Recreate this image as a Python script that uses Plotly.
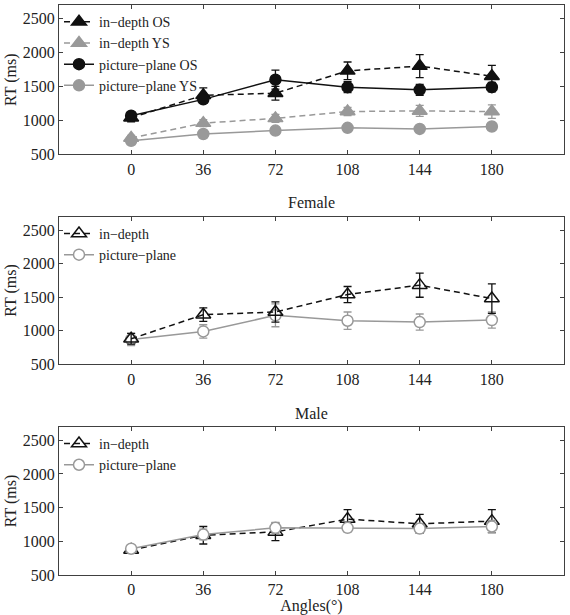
import plotly.graph_objects as go

angles = [0, 36, 72, 108, 144, 180]
x_tick_labels = ["0", "36", "72", "108", "144", "180"]
y_ticks = [500, 1000, 1500, 2000, 2500]

# Panel 1: age groups
indepth_os = [1040, 1370, 1400, 1730, 1800, 1650]
indepth_os_err = [60, 110, 100, 130, 170, 160]
indepth_ys = [740, 960, 1030, 1130, 1140, 1130]
indepth_ys_err = [40, 50, 60, 60, 80, 100]
picture_os = [1070, 1310, 1600, 1490, 1450, 1490]
picture_os_err = [60, 50, 140, 80, 80, 70]
picture_ys = [700, 800, 850, 890, 875, 910]
picture_ys_err = [30, 30, 30, 30, 30, 30]

# Panel 2: Female
female_indepth = [880, 1240, 1280, 1540, 1680, 1480]
female_indepth_err = [80, 100, 150, 120, 180, 220]
female_picture = [870, 990, 1230, 1150, 1130, 1160]
female_picture_err = [90, 100, 170, 130, 120, 120]

# Panel 3: Male
male_indepth = [870, 1090, 1140, 1330, 1260, 1300]
male_indepth_err = [50, 130, 130, 140, 140, 170]
male_picture = [890, 1100, 1200, 1200, 1190, 1220]
male_picture_err = [50, 80, 80, 60, 70, 90]

BLACK = "#111111"
GRAY = "#999999"
FONT = "Liberation Serif"
DASH = "6px,4px"

fig = go.Figure()


def add(x, y, err, name, color, dash, symbol, fill, xa, ya, legend, size):
    fig.add_trace(go.Scatter(
        x=x, y=y, name=name, mode="lines+markers",
        xaxis=xa, yaxis=ya, legend=legend,
        line=dict(color=color, width=1.5, dash=dash),
        marker=dict(symbol=symbol, size=size, color=fill,
                    line=dict(color=color, width=1.5)),
        error_y=dict(type="data", array=err, visible=True, color=color,
                     thickness=1.3, width=4),
    ))


# panel 1
add(angles, indepth_os, indepth_os_err, "in\u2212depth OS", BLACK, DASH, "triangle-up", BLACK, "x", "y", "legend", 13)
add(angles, indepth_ys, indepth_ys_err, "in\u2212depth YS", GRAY, DASH, "triangle-up", GRAY, "x", "y", "legend", 13)
add(angles, picture_os, picture_os_err, "picture\u2212plane OS", BLACK, "solid", "circle", BLACK, "x", "y", "legend", 11)
add(angles, picture_ys, picture_ys_err, "picture\u2212plane YS", GRAY, "solid", "circle", GRAY, "x", "y", "legend", 11)

# panel 2
add(angles, female_picture, female_picture_err, "picture\u2212plane", GRAY, "solid", "circle", "white", "x2", "y2", "legend2", 11)
add(angles, female_indepth, female_indepth_err, "in\u2212depth", BLACK, DASH, "triangle-up", "rgba(255,255,255,0)", "x2", "y2", "legend2", 13)

# panel 3
add(angles, male_indepth, male_indepth_err, "in\u2212depth", BLACK, DASH, "triangle-up", "rgba(255,255,255,0)", "x3", "y3", "legend3", 13)
add(angles, male_picture, male_picture_err, "picture\u2212plane", GRAY, "solid", "circle", "white", "x3", "y3", "legend3", 11)

domains = [(0.738, 1.0), (0.3696, 0.6286), (0.0, 0.260)]
axis_common = dict(showline=True, linecolor="#404040", linewidth=1.2, mirror="allticks",
                   ticks="inside", ticklen=4, tickcolor="#404040", showgrid=False,
                   zeroline=False, automargin=False,
                   tickfont=dict(family=FONT, size=16, color="#222"))

layout = dict(
    width=570, height=615,
    margin=dict(l=59, r=6, t=5, b=40),
    paper_bgcolor="white", plot_bgcolor="white",
    font=dict(family=FONT, color="#222"),
    showlegend=True,
)
names = ["", "2", "3"]
for i, (n, d) in enumerate(zip(names, domains)):
    xa = dict(axis_common, domain=[0, 1], range=[-36, 216], tickvals=angles,
              ticktext=x_tick_labels, anchor="y" + n)
    ya = dict(axis_common, domain=list(d), range=[500, 2700], tickvals=y_ticks,
              anchor="x" + n,
              title=dict(text="RT (ms)", font=dict(family=FONT, size=16, color="#222"), standoff=2))
    if i == 2:
        xa["title"] = dict(text="Angles(\u00b0)", font=dict(family=FONT, size=16, color="#222"), standoff=0)
    layout["xaxis" + n] = xa
    layout["yaxis" + n] = ya

leg_common = dict(x=0.0, xanchor="left", yanchor="top", bgcolor="rgba(0,0,0,0)",
                  font=dict(family=FONT, size=14, color="#222"), tracegroupgap=0,
                  traceorder="normal", itemwidth=30)
layout["legend"] = dict(leg_common, y=0.998)
layout["legend2"] = dict(leg_common, y=domains[1][1] - 0.002, traceorder="reversed")
layout["legend3"] = dict(leg_common, y=domains[2][1] - 0.002)

layout["annotations"] = [
    dict(text="Female", x=0.5, xref="paper", y=(575 - 203) / 570, yref="paper",
         showarrow=False, font=dict(family=FONT, size=16, color="#222"), yanchor="middle"),
    dict(text="Male", x=0.5, xref="paper", y=(575 - 413) / 570, yref="paper",
         showarrow=False, font=dict(family=FONT, size=16, color="#222"), yanchor="middle"),
]
fig.update_layout(**layout)
fig.write_html("out.html", config={"displayModeBar": False},
               post_script="document.body.style.margin='0';document.body.style.overflow='hidden';")
